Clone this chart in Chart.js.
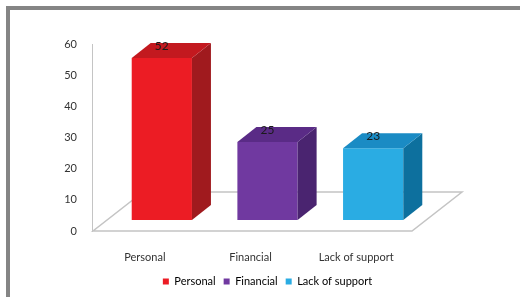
<!DOCTYPE html>
<html>
<head>
<meta charset="utf-8">
<script src="https://cdn.jsdelivr.net/npm/chart.js@4.4.0/dist/chart.umd.min.js"></script>
<style>
  html, body { margin: 0; padding: 0; background: #fff; overflow: hidden; }
  #wrap { position: relative; width: 520px; height: 297px; }
  #frame {
    position: absolute; left: 6px; top: 6px; width: 600px; height: 400px;
    border-left: 4px solid #858585; border-top: 4px solid #858585;
    pointer-events: none;
  }
</style>
</head>
<body>
<div id="wrap">
  <canvas id="chart" width="520" height="297"></canvas>
  <div id="frame"></div>
</div>
<script>
const categories = ["Personal", "Financial", "Lack of support"]
const values = [52, 25, 23]
const frontColors = ["#ec1c24", "#7039a0", "#2aace3"]
const topColors = ["#c3191f", "#5a2b86", "#1a8bc4"]
const sideColors = ["#a01a1e", "#4a2470", "#0d709e"]
const yTicks = [0, 10, 20, 30, 40, 50, 60]

// 3D look: front faces shifted into the floor, then a depth for side and top
const shift = { x: 17, y: -11 }
const depth = { x: 19, y: -15 }
const floorDepth = { x: 50, y: -39 }

const threeD = {
    id: "threeD",
    beforeDatasetsDraw(chart) {
        const ctx = chart.ctx
        const area = chart.chartArea
        const y0 = chart.scales.y.getPixelForValue(0)
        const l = area.left + 1, r = area.right + 3
        ctx.save()
        ctx.beginPath()
        ctx.moveTo(l, y0)
        ctx.lineTo(r, y0)
        ctx.lineTo(r + floorDepth.x, y0 + floorDepth.y)
        ctx.lineTo(l + floorDepth.x, y0 + floorDepth.y)
        ctx.closePath()
        ctx.fillStyle = "#ffffff"
        ctx.fill()
        ctx.strokeStyle = "#c4c4c4"
        ctx.lineWidth = 1.5
        ctx.stroke()
        ctx.restore()

        ctx.save()
        ctx.translate(shift.x, shift.y)
    },
    afterDatasetsDraw(chart) {
        const ctx = chart.ctx
        ctx.restore()
        const meta = chart.getDatasetMeta(0)
        meta.data.forEach(function (bar, i) {
            const p = bar.getProps(["x", "y", "base", "width"], true)
            const x0 = p.x - p.width / 2 + shift.x
            const x1 = p.x + p.width / 2 + shift.x
            const yt = p.y + shift.y
            const yb = p.base + shift.y

            ctx.fillStyle = sideColors[i]
            ctx.beginPath()
            ctx.moveTo(x1, yt)
            ctx.lineTo(x1 + depth.x, yt + depth.y)
            ctx.lineTo(x1 + depth.x, yb + depth.y)
            ctx.lineTo(x1, yb)
            ctx.closePath()
            ctx.fill()

            ctx.fillStyle = topColors[i]
            ctx.beginPath()
            ctx.moveTo(x0, yt)
            ctx.lineTo(x1, yt)
            ctx.lineTo(x1 + depth.x, yt + depth.y)
            ctx.lineTo(x0 + depth.x, yt + depth.y)
            ctx.closePath()
            ctx.fill()

            ctx.fillStyle = "#1a1a1a"
            ctx.font = "12px Lato"
            ctx.textAlign = "center"
            ctx.textBaseline = "middle"
            ctx.fillText(String(values[i]), (x0 + x1) / 2, yt - 12)
        })
    },
}

const chart = new Chart(document.getElementById("chart"), {
    type: "bar",
    data: {
        labels: categories,
        datasets: [
            {
                label: "Values",
                data: values,
                backgroundColor: frontColors,
                borderWidth: 0,
                categoryPercentage: 1,
                barPercentage: 0.57,
            },
        ],
    },
    options: {
        responsive: false,
        animation: false,
        events: [],
        layout: { padding: { left: 15, right: 0, top: 44, bottom: 0 } },
        plugins: {
            tooltip: { enabled: false },
            legend: {
                position: "bottom",
                labels: {
                    boxWidth: 6,
                    boxHeight: 6,
                    padding: 8,
                    color: "#333",
                    font: { family: "Lato", size: 11 },
                    generateLabels: function () {
                        return categories.map(function (c, i) {
                            return { text: c, fillStyle: frontColors[i], strokeStyle: frontColors[i], lineWidth: 0, hidden: false, index: i }
                        })
                    },
                },
                onClick: function () {},
            },
        },
        scales: {
            x: {
                grid: { display: false },
                border: { display: false },
                ticks: { color: "#333", padding: 12, font: { family: "Lato", size: 11 } },
                afterFit: function (s) { s.height = 37 },
            },
            y: {
                min: 0,
                max: 60,
                afterBuildTicks: function (s) { s.ticks = yTicks.map(function (v) { return { value: v } }) },
                grid: { display: false },
                border: { display: true, color: "#c4c4c4", width: 1 },
                ticks: { color: "#333", padding: 7, font: { family: "Lato", size: 11 } },
                afterFit: function (s) { s.width = 77 },
            },
            yR: {
                position: "right",
                display: true,
                grid: { display: false },
                border: { display: false },
                ticks: { display: false },
                afterFit: function (s) { s.width = 111 },
            },
        },
    },
    plugins: [threeD],
})
</script>
</body>
</html>
